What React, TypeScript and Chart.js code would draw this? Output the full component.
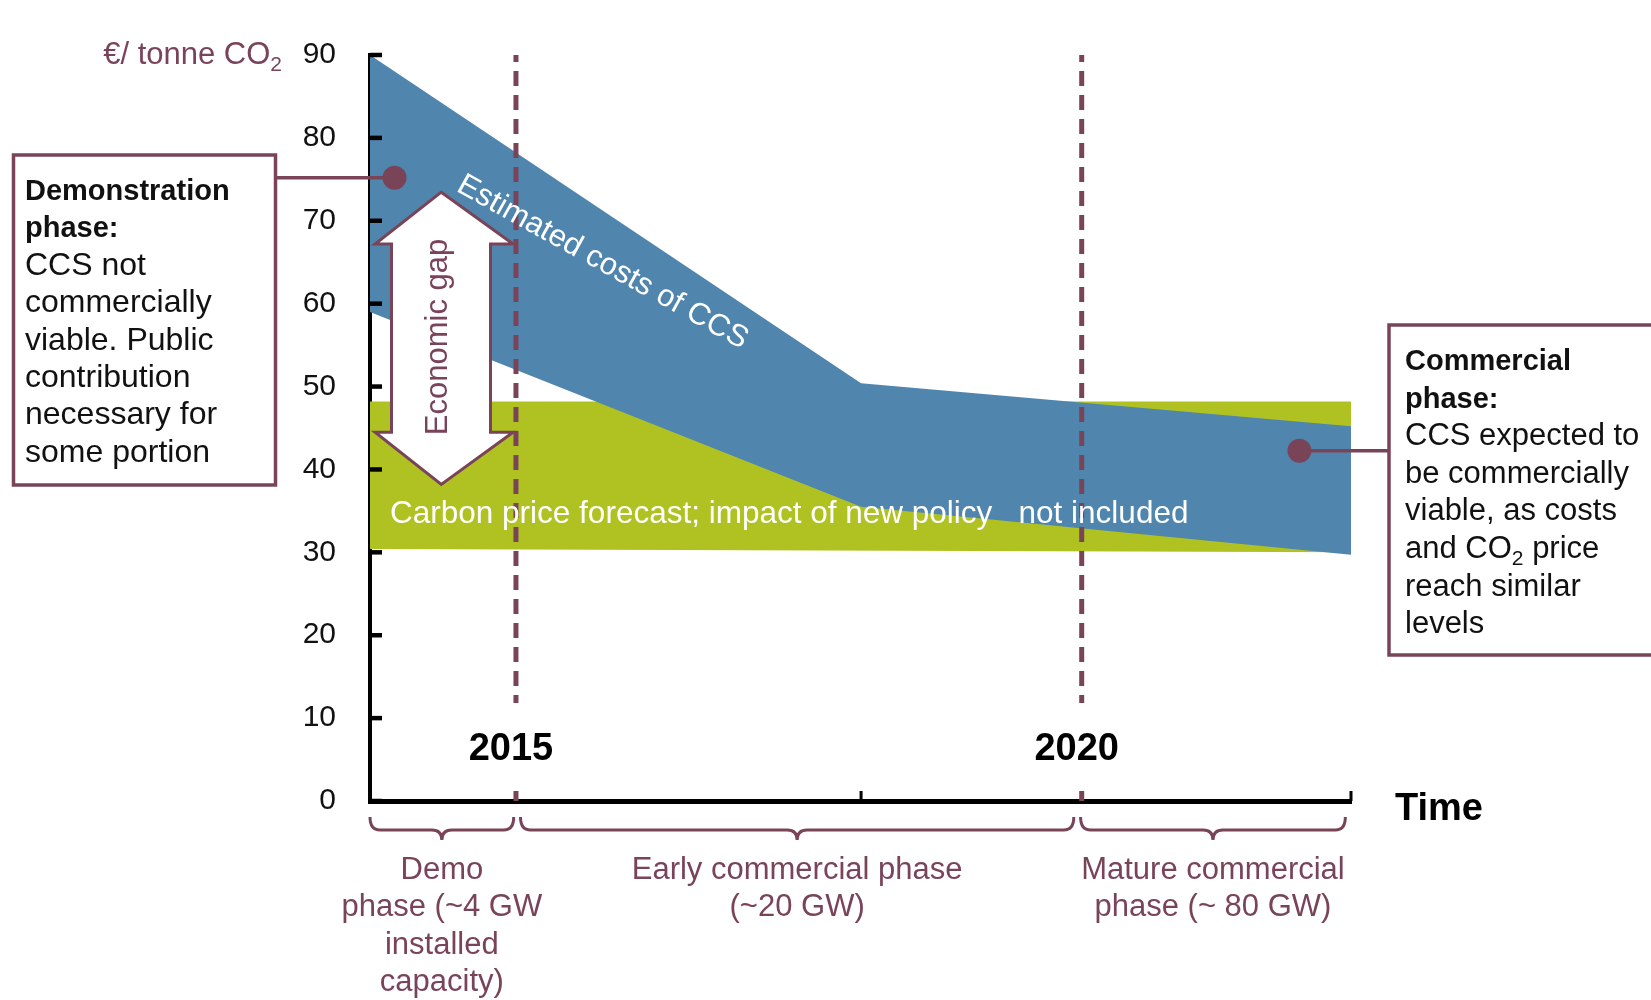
import React, { useEffect, useRef } from 'react';
import { Chart, registerables } from 'chart.js';

Chart.register(...registerables);

// ---------------- data ----------------
const X_MIN = 2013.71;
const X_MAX = 2022.38;
const costYears = [2013.71, 2018.05, 2022.38];
const costHigh = [90, 50.4, 45.2];
const costLow = [59.0, 35.5, 29.7];
const carbonYears = [2013.71, 2022.38];
const carbonHigh = [48.2, 48.2];
const carbonLow = [30.4, 30.0];
const yTickValues = [0, 10, 20, 30, 40, 50, 60, 70, 80, 90];
const axisTickYears = [2018.05, 2022.38];
const milestoneYears = [2015, 2020];
const milestoneLabels = ['2015', '2020'];
const calloutYears = [2013.927, 2021.924];
const calloutValues = [75.2, 42.25];
const gapArrowYears = [2014.34, 2014.975, 2014.775, 2014.775, 2014.975, 2014.34, 2013.755, 2013.9, 2013.9, 2013.755];
const gapArrowValues = [73.45, 67.2, 67.2, 44.5, 44.5, 38.2, 44.5, 44.5, 67.2, 67.2];
const phaseStartYears = [2013.71, 2015.04, 2019.99];
const phaseEndYears = [2014.98, 2019.93, 2022.33];
const phaseLabels = [
  ['Demo', 'phase (~4 GW', 'installed', 'capacity)'],
  ['Early commercial phase', '(~20 GW)'],
  ['Mature commercial', 'phase (~ 80 GW)'],
];
const demoBoxTitle = ['Demonstration', 'phase:'];
const demoBoxBody = ['CCS not', 'commercially', 'viable. Public', 'contribution', 'necessary for', 'some portion'];
const commercialBoxTitle = ['Commercial', 'phase:'];
const commercialBoxBody = ['CCS expected to', 'be commercially', 'viable, as costs', 'and CO₂ price', 'reach similar', 'levels'];
const yAxisTitle = '€/ tonne CO₂';
const xAxisTitle = 'Time';
const costLabel = 'Estimated costs of CCS';
const carbonLabel = 'Carbon price forecast; impact of new policy   not included';
const gapLabel = 'Economic gap';

// ---------------- styles ----------------
const BLUE = '#5085AE';
const GREEN = '#B0C222';
const MAROON = '#7A4458';
const INK = '#111111';
const FAMILY = '"Liberation Sans", Arial, Helvetica, sans-serif';
const font = (size: number, bold = false) => `${bold ? 'bold ' : ''}${size}px ${FAMILY}`;

// text with "₂" rendered as a subscript
function richWidth(ctx: CanvasRenderingContext2D, text: string, size: number, bold: boolean) {
  const parts = text.split('₂');
  let w = 0;
  parts.forEach((p, i) => {
    ctx.font = font(size, bold);
    w += ctx.measureText(p).width;
    if (i < parts.length - 1) {
      ctx.font = font(Math.round(size * 0.68), bold);
      w += ctx.measureText('2').width;
    }
  });
  return w;
}
function richText(ctx: CanvasRenderingContext2D, text: string, x: number, y: number, size: number, bold: boolean, color: string, align: 'left' | 'right' | 'center' = 'left') {
  const total = richWidth(ctx, text, size, bold);
  let cx = align === 'left' ? x : align === 'right' ? x - total : x - total / 2;
  ctx.fillStyle = color;
  ctx.textAlign = 'left';
  ctx.textBaseline = 'alphabetic';
  const parts = text.split('₂');
  parts.forEach((p, i) => {
    ctx.font = font(size, bold);
    ctx.fillText(p, cx, y);
    cx += ctx.measureText(p).width;
    if (i < parts.length - 1) {
      const ss = Math.round(size * 0.68);
      ctx.font = font(ss, bold);
      ctx.fillText('2', cx, y + size * 0.24);
      cx += ctx.measureText('2').width;
    }
  });
}

function brace(ctx: CanvasRenderingContext2D, x0: number, x1: number, yTop: number) {
  const xm = (x0 + x1) / 2;
  const yMid = yTop + 13;
  const yTip = yTop + 23;
  const r = 10;
  ctx.beginPath();
  ctx.moveTo(x0, yTop);
  ctx.quadraticCurveTo(x0, yMid, x0 + r, yMid);
  ctx.lineTo(xm - r, yMid);
  ctx.quadraticCurveTo(xm, yMid, xm, yTip);
  ctx.quadraticCurveTo(xm, yMid, xm + r, yMid);
  ctx.lineTo(x1 - r, yMid);
  ctx.quadraticCurveTo(x1, yMid, x1, yTop);
  ctx.stroke();
}

const LEFT_BOX = { x: 13.5, y: 155, w: 262, h: 330 };
const RIGHT_BOX = { x: 1389, y: 325, w: 320, h: 330 };
const CALLOUT_INDEX = 4;

const overlay = {
  id: 'ccsOverlay',
  beforeDatasetDraw(chart: any, args: any) {
    if (args.index !== CALLOUT_INDEX) return;
    const ctx: CanvasRenderingContext2D = chart.ctx;
    const xs = chart.scales.x;
    const ys = chart.scales.y;
    const { top, bottom } = chart.chartArea;
    ctx.save();
    // economic gap double arrow
    ctx.beginPath();
    gapArrowYears.forEach((yr, i) => {
      const px = xs.getPixelForValue(yr);
      const py = ys.getPixelForValue(gapArrowValues[i]);
      if (i === 0) ctx.moveTo(px, py);
      else ctx.lineTo(px, py);
    });
    ctx.closePath();
    ctx.fillStyle = '#ffffff';
    ctx.fill();
    ctx.lineWidth = 3;
    ctx.lineJoin = 'miter';
    ctx.strokeStyle = MAROON;
    ctx.stroke();
    // milestone dashed lines
    ctx.setLineDash([15, 9]);
    ctx.lineDashOffset = 8;
    ctx.lineWidth = 5;
    milestoneYears.forEach((yr) => {
      const px = xs.getPixelForValue(yr);
      ctx.beginPath();
      ctx.moveTo(px, top);
      ctx.lineTo(px, bottom);
      ctx.stroke();
    });
    ctx.setLineDash([]);
    // callout connectors
    ctx.lineWidth = 3.5;
    const lx = xs.getPixelForValue(calloutYears[0]);
    const ly = ys.getPixelForValue(calloutValues[0]);
    ctx.beginPath();
    ctx.moveTo(LEFT_BOX.x + LEFT_BOX.w, ly);
    ctx.lineTo(lx, ly);
    ctx.stroke();
    const rx = xs.getPixelForValue(calloutYears[1]);
    const ry = ys.getPixelForValue(calloutValues[1]);
    ctx.beginPath();
    ctx.moveTo(rx, ry);
    ctx.lineTo(RIGHT_BOX.x, ry);
    ctx.stroke();
    ctx.restore();
  },
  afterDatasetsDraw(chart: any) {
    const ctx: CanvasRenderingContext2D = chart.ctx;
    const xs = chart.scales.x;
    const ys = chart.scales.y;
    ctx.save();
    // band labels
    ctx.fillStyle = '#ffffff';
    ctx.font = font(31);
    ctx.textAlign = 'center';
    ctx.textBaseline = 'middle';
    ctx.save();
    ctx.translate(xs.getPixelForValue(2015.765), ys.getPixelForValue(64.97));
    ctx.rotate((29 * Math.PI) / 180);
    ctx.fillText(costLabel, 0, 0);
    ctx.restore();

    ctx.font = font(31.5);
    ctx.textAlign = 'left';
    ctx.textBaseline = 'alphabetic';
    ctx.fillText(carbonLabel, xs.getPixelForValue(2013.887), ys.getPixelForValue(33.54));

    ctx.save();
    ctx.fillStyle = MAROON;
    ctx.font = font(31);
    ctx.textAlign = 'center';
    ctx.textBaseline = 'middle';
    ctx.translate(xs.getPixelForValue(2014.311), ys.getPixelForValue(55.98));
    ctx.rotate(-Math.PI / 2);
    ctx.fillText(gapLabel, 0, 0);
    ctx.restore();

    // milestone year labels on white patches
    milestoneYears.forEach((yr, i) => {
      const cx = xs.getPixelForValue(yr) - 5;
      ctx.fillStyle = '#ffffff';
      ctx.fillRect(cx - 55, 703, 110, 83);
      ctx.fillStyle = '#000000';
      ctx.font = font(38, true);
      ctx.textAlign = 'center';
      ctx.textBaseline = 'alphabetic';
      ctx.fillText(milestoneLabels[i], cx, ys.getPixelForValue(4.95));
    });
    ctx.restore();
  },
  afterDraw(chart: any) {
    const ctx: CanvasRenderingContext2D = chart.ctx;
    const xs = chart.scales.x;
    const ys = chart.scales.y;
    const { left, bottom } = chart.chartArea;
    ctx.save();
    // inward tick marks
    ctx.strokeStyle = '#000000';
    ctx.lineWidth = 4.5;
    yTickValues.forEach((v) => {
      const py = ys.getPixelForValue(v);
      ctx.beginPath();
      ctx.moveTo(left, py);
      ctx.lineTo(left + 12, py);
      ctx.stroke();
    });
    ctx.lineWidth = 3;
    axisTickYears.forEach((yr) => {
      const px = xs.getPixelForValue(yr);
      ctx.beginPath();
      ctx.moveTo(px, bottom);
      ctx.lineTo(px, bottom - 10);
      ctx.stroke();
    });

    // y axis title
    richText(ctx, yAxisTitle, 282, 64, 31, false, MAROON, 'right');
    // x axis title
    ctx.fillStyle = '#000000';
    ctx.font = font(38, true);
    ctx.textAlign = 'left';
    ctx.textBaseline = 'alphabetic';
    ctx.fillText(xAxisTitle, 1395, 820);

    // braces and phase labels
    ctx.strokeStyle = MAROON;
    ctx.lineWidth = 3;
    phaseStartYears.forEach((s, i) => {
      const x0 = xs.getPixelForValue(s);
      const x1 = xs.getPixelForValue(phaseEndYears[i]);
      brace(ctx, x0, x1, bottom + 16);
      const cx = (x0 + x1) / 2;
      ctx.fillStyle = MAROON;
      ctx.font = font(31);
      ctx.textAlign = 'center';
      phaseLabels[i].forEach((line, j) => {
        ctx.fillText(line, cx, bottom + 78 + j * 37.4);
      });
    });

    // callout boxes
    ctx.fillStyle = '#ffffff';
    ctx.fillRect(LEFT_BOX.x, LEFT_BOX.y, LEFT_BOX.w, LEFT_BOX.h);
    ctx.fillRect(RIGHT_BOX.x, RIGHT_BOX.y, RIGHT_BOX.w, RIGHT_BOX.h);
    ctx.strokeStyle = MAROON;
    ctx.lineWidth = 3.5;
    ctx.strokeRect(LEFT_BOX.x, LEFT_BOX.y, LEFT_BOX.w, LEFT_BOX.h);
    ctx.strokeRect(RIGHT_BOX.x, RIGHT_BOX.y, RIGHT_BOX.w, RIGHT_BOX.h);

    const drawBox = (title: string[], body: string[], x: number, y0: number, dy: number, bodySize: number) => {
      title.forEach((t, i) => richText(ctx, t, x, y0 + i * dy, 29, true, INK));
      body.forEach((t, i) => richText(ctx, t, x, y0 + (i + title.length) * dy, bodySize, false, INK));
    };
    drawBox(demoBoxTitle, demoBoxBody, 25, 200, 37.4, 32);
    drawBox(commercialBoxTitle, commercialBoxBody, 1405, 370, 37.6, 31);
    ctx.restore();
  },
};

export default function App() {
  const canvasRef = useRef<HTMLCanvasElement | null>(null);

  useEffect(() => {
    const canvas = canvasRef.current;
    if (!canvas) return;
    const pts = (xsArr: number[], ysArr: number[]) => xsArr.map((x, i) => ({ x, y: ysArr[i] }));
    const chart = new Chart(canvas, {
      type: 'line',
      data: {
        datasets: [
          {
            label: 'Estimated costs of CCS (high)',
            data: pts(costYears, costHigh),
            fill: '+1',
            backgroundColor: BLUE,
            borderColor: BLUE,
            borderWidth: 0,
            pointRadius: 0,
            tension: 0,
            order: 1,
          },
          {
            label: 'Estimated costs of CCS (low)',
            data: pts(costYears, costLow),
            fill: false,
            borderColor: BLUE,
            borderWidth: 0,
            pointRadius: 0,
            tension: 0,
            order: 1,
          },
          {
            label: 'Carbon price forecast (high)',
            data: pts(carbonYears, carbonHigh),
            fill: '+1',
            backgroundColor: GREEN,
            borderColor: GREEN,
            borderWidth: 0,
            pointRadius: 0,
            tension: 0,
            order: 2,
          },
          {
            label: 'Carbon price forecast (low)',
            data: pts(carbonYears, carbonLow),
            fill: false,
            borderColor: GREEN,
            borderWidth: 0,
            pointRadius: 0,
            tension: 0,
            order: 2,
          },
          {
            label: 'Callouts',
            data: pts(calloutYears, calloutValues),
            showLine: false,
            fill: false,
            pointRadius: 12,
            pointHoverRadius: 12,
            pointBackgroundColor: MAROON,
            pointBorderWidth: 0,
            borderColor: MAROON,
            order: 0,
            clip: false as any,
          },
        ],
      },
      options: {
        animation: false,
        responsive: false,
        maintainAspectRatio: false,
        events: [],
        layout: { padding: { left: 270, right: 300, top: 55, bottom: 189 } },
        plugins: { legend: { display: false }, tooltip: { enabled: false } },
        scales: {
          x: {
            type: 'linear',
            min: X_MIN,
            max: X_MAX,
            z: 1,
            grid: { display: false, drawTicks: false },
            ticks: { display: false },
            border: { display: true, color: '#000000', width: 5 },
            afterFit: (s: any) => {
              s.height = 10;
            },
          },
          y: {
            type: 'linear',
            min: 0,
            max: 90,
            z: 1,
            grid: { display: false, drawTicks: false },
            ticks: {
              stepSize: 10,
              color: INK,
              padding: 34,
              font: { family: FAMILY, size: 30 },
            },
            border: { display: true, color: '#000000', width: 4 },
            afterFit: (s: any) => {
              s.width = 100;
            },
          },
        },
      } as any,
      plugins: [overlay as any],
    });
    return () => chart.destroy();
  }, []);

  return (
    <div style={{ position: 'absolute', left: 0, top: 0, width: 1651, height: 1000, background: '#ffffff' }}>
      <canvas ref={canvasRef} width={1651} height={1000} style={{ display: 'block', width: 1651, height: 1000 }} />
    </div>
  );
}
